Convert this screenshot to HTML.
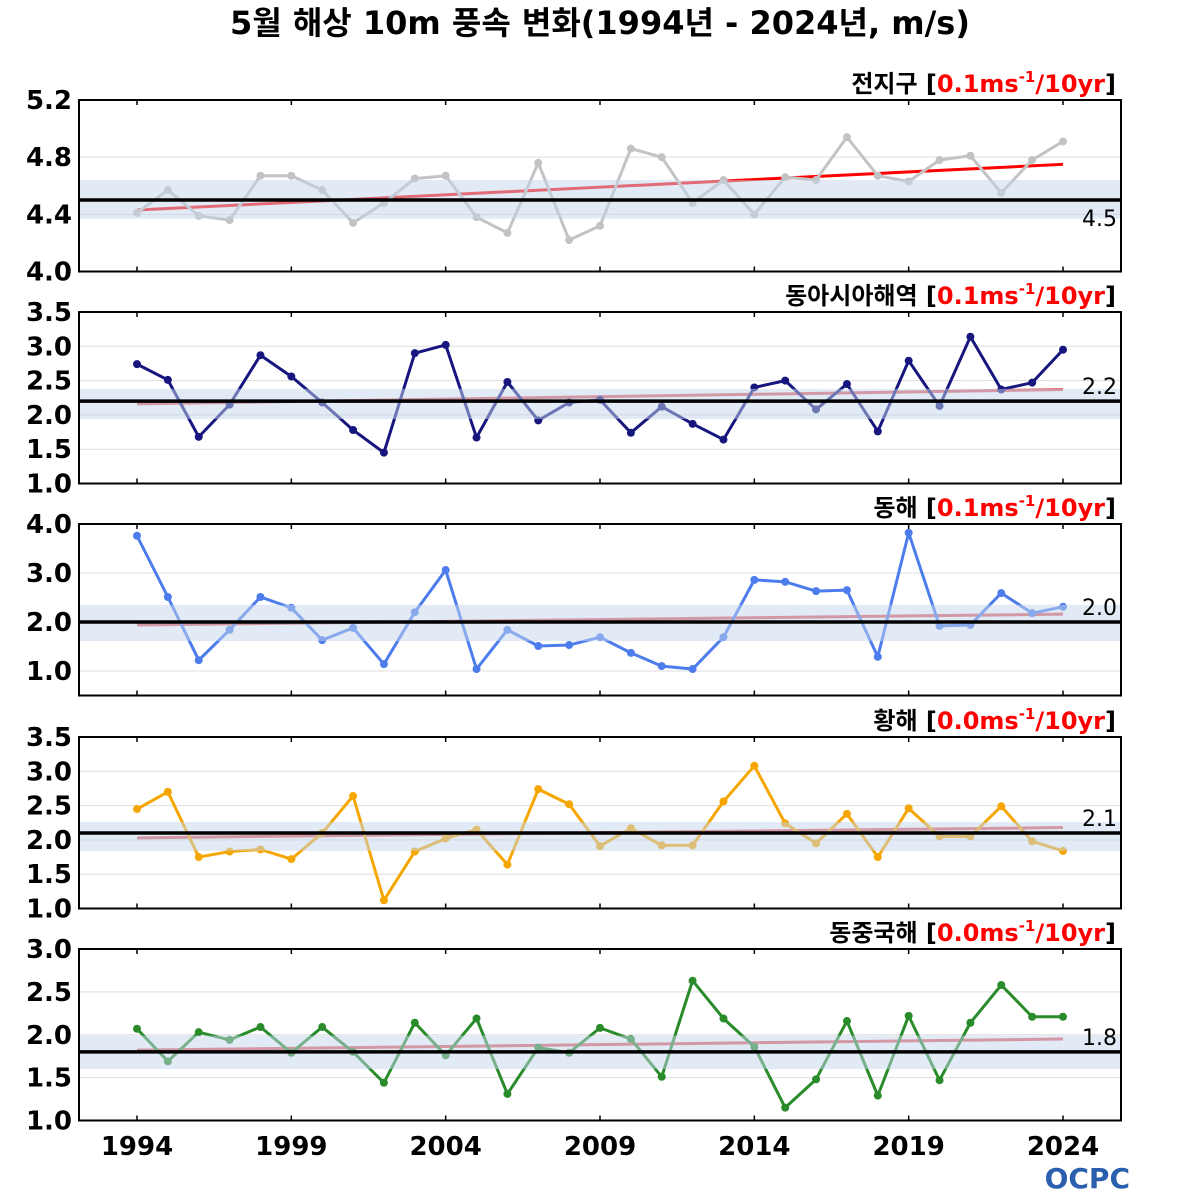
<!DOCTYPE html>
<html><head><meta charset="utf-8"><style>
body{margin:0;background:#fff;}
svg{display:block;font-family:"DejaVu Sans","Noto Sans CJK KR",sans-serif;}
</style></head><body>
<svg id="chart" width="1200" height="1200" viewBox="0 0 1200 1200">
<text x="600" y="34" text-anchor="middle" font-size="32" font-weight="bold">5월 해상 10m 풍속 변화(1994년 - 2024년, m/s)</text>
<text x="1130" y="1188" text-anchor="end" font-size="28" font-weight="bold" fill="#2a5fb0">OCPC</text>
</svg>
<script>
const years = [];
for (let y = 1994; y <= 2024; y++) years.push(y);
const xTickYears = [1994, 1999, 2004, 2009, 2014, 2019, 2024];
const panelNames = ["전지구", "동아시아해역", "동해", "황해", "동중국해"];
const trendLabels = ["0.1ms", "0.1ms", "0.1ms", "0.0ms", "0.0ms"];
const meanValues = [4.5, 2.2, 2.0, 2.1, 1.8];
const meanLabels = ["4.5", "2.2", "2.0", "2.1", "1.8"];
const trendStart = [4.43, 2.16, 1.94, 2.03, 1.82];
const trendEnd = [4.75, 2.37, 2.16, 2.18, 1.95];
const bandLow = [4.37, 1.94, 1.61, 1.84, 1.60];
const bandHigh = [4.64, 2.38, 2.35, 2.26, 1.99];
const globalSeries = [4.41,4.57,4.39,4.36,4.67,4.67,4.57,4.34,4.48,4.65,4.67,4.38,4.27,4.76,4.22,4.32,4.86,4.80,4.48,4.64,4.40,4.66,4.64,4.94,4.67,4.63,4.78,4.81,4.55,4.78,4.91];
const eastAsiaSeries = [2.74,2.51,1.68,2.15,2.87,2.56,2.18,1.78,1.45,2.90,3.02,1.67,2.48,1.92,2.18,2.22,1.74,2.12,1.87,1.64,2.40,2.50,2.08,2.45,1.76,2.79,2.13,3.14,2.37,2.47,2.95];
const eastSeaSeries = [3.76,2.51,1.22,1.84,2.51,2.29,1.63,1.88,1.14,2.20,3.06,1.04,1.84,1.51,1.53,1.69,1.37,1.10,1.04,1.69,2.86,2.82,2.63,2.65,1.29,3.82,1.92,1.94,2.59,2.18,2.31];
const yellowSeaSeries = [2.45,2.70,1.75,1.83,1.86,1.72,2.10,2.64,1.12,1.83,2.02,2.15,1.64,2.74,2.52,1.91,2.17,1.92,1.92,2.56,3.08,2.24,1.95,2.38,1.75,2.46,2.05,2.05,2.49,1.98,1.84];
const eastChinaSeaSeries = [2.07,1.69,2.03,1.94,2.09,1.79,2.09,1.80,1.44,2.14,1.76,2.19,1.31,1.85,1.79,2.08,1.95,1.51,2.63,2.19,1.86,1.15,1.48,2.16,1.29,2.22,1.47,2.14,2.58,2.21,2.21];
const yMins = [4.0, 1.0, 0.5, 1.0, 1.0];
const yMaxs = [5.2, 3.5, 4.0, 3.5, 3.0];
const yTicks0 = [4.0, 4.4, 4.8, 5.2];
const yTicks1 = [1.0, 1.5, 2.0, 2.5, 3.0, 3.5];
const yTicks2 = [1.0, 2.0, 3.0, 4.0];
const yTicks3 = [1.0, 1.5, 2.0, 2.5, 3.0, 3.5];
const yTicks4 = [1.0, 1.5, 2.0, 2.5, 3.0];

const series = [globalSeries, eastAsiaSeries, eastSeaSeries, yellowSeaSeries, eastChinaSeaSeries];
const tickSets = [yTicks0, yTicks1, yTicks2, yTicks3, yTicks4];
const colors = ["#c3c3c3", "#16167e", "#4d7cec", "#f6a600", "#2a8b2a"];
const trendColors = ["#ff0000", "#e05a5e", "#e05a5e", "#e05a5e", "#e05a5e"];
const tops = [100, 312, 524, 737, 949];
const PH = 171.5, X0 = 79, X1 = 1121;
const svg = document.getElementById('chart');
const NS = "http://www.w3.org/2000/svg";
const xScale = yr => 137 + (yr - 1994) * (1063 - 137) / 30;
function mk(tag, attrs, parent) {
  const e = document.createElementNS(NS, tag);
  for (const k in attrs) e.setAttribute(k, attrs[k]);
  (parent || svg).appendChild(e);
  return e;
}
for (let p = 0; p < 5; p++) {
  const top = tops[p];
  const ys = v => top + PH - (v - yMins[p]) / (yMaxs[p] - yMins[p]) * PH;
  const g = mk('g', {});
  
  
  tickSets[p].forEach(t => {
    const gl = mk('line', {x1: X0, x2: X1, y1: ys(t), y2: ys(t), stroke: '#dddddd', 'stroke-width': 1}, g);
    
    
    const tl = mk('text', {x: 72, y: ys(t) + 9, 'text-anchor': 'end', 'font-size': 26, 'font-weight': 'bold'}, g);
    tl.textContent = t.toFixed(1);
    
    
  });
  xTickYears.forEach(yr => {
    mk('line', {x1: xScale(yr), x2: xScale(yr), y1: top, y2: top + 5, stroke: '#000', 'stroke-width': 1.5}, g);
    mk('line', {x1: xScale(yr), x2: xScale(yr), y1: top + PH, y2: top + PH - 5, stroke: '#000', 'stroke-width': 1.5}, g);
  });
  const tr = mk('line', {x1: xScale(1994), x2: xScale(2024), y1: ys(trendStart[p]), y2: ys(trendEnd[p]), stroke: trendColors[p], 'stroke-width': 3}, g);
  
  
  const pts = series[p].map((v, i) => xScale(years[i]) + ',' + ys(v)).join(' ');
  const pl = mk('polyline', {points: pts, fill: 'none', stroke: colors[p], 'stroke-width': 3, 'stroke-linejoin': 'round'}, g);
  
  
  series[p].forEach((v, i) => {
    const c = mk('circle', {cx: xScale(years[i]), cy: ys(v), r: 4, fill: colors[p]}, g);
    
    
  });
  const band = mk('rect', {x: X0, width: X1 - X0, y: ys(bandHigh[p]), height: ys(bandLow[p]) - ys(bandHigh[p]), fill: '#c4d6eb', opacity: 0.5}, g);
  
  
  const ml = mk('line', {x1: X0, x2: X1, y1: ys(meanValues[p]), y2: ys(meanValues[p]), stroke: '#000', 'stroke-width': 3.5}, g);
  
  
  const mt = mk('text', {x: 1117, y: p === 0 ? ys(meanValues[p]) + 26 : ys(meanValues[p]) - 7, 'text-anchor': 'end', 'font-size': 22}, g);
  mt.textContent = meanLabels[p];
  
  
  const fr = mk('rect', {x: X0, y: top, width: X1 - X0, height: PH, fill: 'none', stroke: '#000', 'stroke-width': 2}, g);
  
  
  const tt = mk('text', {x: 1116, y: top - 8, 'text-anchor': 'end', 'font-size': 24, 'font-weight': 'bold'}, g);
  
  
  const s1 = mk('tspan', {}, tt); s1.textContent = panelNames[p] + ' [';
  const s2 = mk('tspan', {fill: '#ff0000'}, tt); s2.textContent = trendLabels[p];
  const s3 = mk('tspan', {fill: '#ff0000', 'font-size': 15, dy: -10}, tt); s3.textContent = '-1';
  const s4 = mk('tspan', {fill: '#ff0000', dy: 10}, tt); s4.textContent = '/10yr';
  const s5 = mk('tspan', {}, tt); s5.textContent = ']';
}
xTickYears.forEach(yr => {
  const t = mk('text', {x: xScale(yr), y: 1155, 'text-anchor': 'middle', 'font-size': 26, 'font-weight': 'bold'});
  t.textContent = yr;
  
  
});
</script>
</body></html>
